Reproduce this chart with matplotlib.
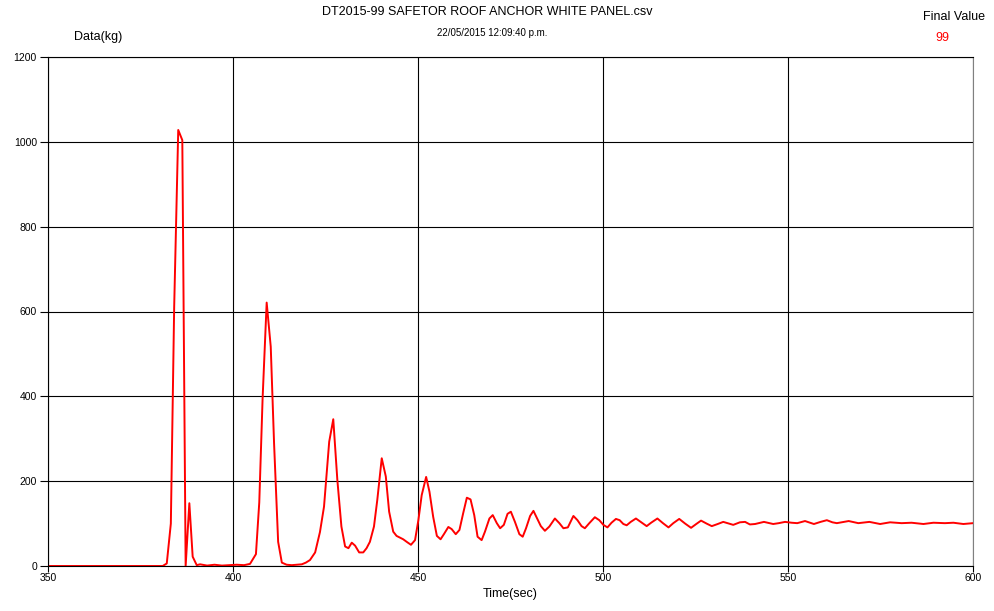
import matplotlib
matplotlib.use("Agg")
import matplotlib.pyplot as plt

plt.rcParams['font.family'] = ['Liberation Sans', 'DejaVu Sans']

times = [350, 381, 382.1, 383.2, 384.1, 385.2, 386.3, 387.2, 388.2, 389.1, 390.2, 391.1, 393, 395, 397,
         399.2, 401, 403, 404.6, 406.2, 407.1, 408.0, 409.1, 410.2, 411.1, 412.2, 413.2, 414.5, 415.9,
         417.2, 418.6, 419.7, 420.8, 422.2, 423.5, 424.6, 426.0, 427.1, 428.2, 429.3, 430.3, 431.2,
         432.1, 433.0, 434.1, 435.2, 436.1, 437.0, 438.1, 439.0, 440.2, 441.3, 442.2, 443.3, 444.2,
         445.1, 446.0, 447.1, 448.1, 449.2, 450.1, 451.0, 452.2, 453.1, 454.1, 455.1, 456.1, 457.0,
         458.2, 459.1, 460.2, 461.2, 462.2, 463.2, 464.2, 465.2, 466.1, 467.2, 468.1, 469.3, 470.2,
         471.3, 472.2, 473.2, 474.2, 475.1, 476.2, 477.4, 478.3, 479.2, 480.3, 481.2, 482.2, 483.2,
         484.3, 485.5, 487.0, 488.2, 489.3, 490.5, 492.0, 493.1, 494.2, 495.1, 496.3, 497.8, 499.0,
         500.1, 501.2, 502.3, 503.5, 504.5, 505.5, 506.4, 507.5, 508.9, 510.2, 511.8, 513.0, 514.7,
         516.2, 517.7, 519.0, 520.6, 522.2, 523.8, 525.2, 526.5, 528.0, 529.4, 531.0, 532.5, 534.0,
         535.2, 537.0, 538.4, 539.7, 541.1, 543.5, 546.0, 547.5, 549.2, 551.0, 552.5, 554.6, 557.0,
         558.8, 560.5, 562.0, 563.2, 566.4, 569.0, 572.0, 574.9, 577.6, 580.7, 583.4, 586.6, 589.3,
         592.4, 594.7, 597.4, 600]
load_kg = [0, 0, 6, 100, 610, 1028, 1004, 0, 148, 22, 2, 4, 1, 3, 1,
           2, 3, 2, 5, 28, 150, 395, 621, 517, 289, 57, 8, 3, 2,
           3, 4, 8, 14, 32, 80, 140, 293, 346, 203, 93, 46, 42,
           55, 48, 32, 32, 42, 57, 93, 156, 254, 211, 128, 81, 71,
           67, 63, 56, 50, 61, 108, 167, 210, 175, 116, 71, 63, 75,
           92, 87, 75, 85, 124, 161, 157, 120, 69, 61, 81, 112, 120,
           101, 89, 97, 123, 128, 104, 75, 69, 89, 118, 130, 112, 94,
           83, 93, 112, 101, 89, 91, 118, 108, 94, 89, 101, 115, 108,
           97, 91, 102, 111, 108, 99, 96, 104, 112, 104, 94, 102, 112,
           101, 91, 101, 111, 100, 90, 99, 107, 100, 94, 99, 104, 100,
           97, 103, 104, 98, 99, 104, 99, 101, 104, 102, 101, 106, 99,
           104, 108, 103, 101, 106, 101, 104, 99, 103, 101, 102, 99, 102,
           101, 102, 99, 101]

x_ticks = [350, 400, 450, 500, 550, 600]
y_ticks = [0, 200, 400, 600, 800, 1000, 1200]

title = "DT2015-99 SAFETOR ROOF ANCHOR WHITE PANEL.csv"
subtitle = "22/05/2015 12:09:40 p.m."
final_value = "99"

fig = plt.figure(figsize=(9.95, 6.11), dpi=100)
ax = fig.add_axes([48/995, 1-566/611, 925/995, 509/611])
ax.plot(times, load_kg, color='#ff0000', lw=1.4)
ax.set_xlim(350, 600)
ax.set_ylim(0, 1200)
ax.set_xticks(x_ticks)
ax.set_yticks(y_ticks)
ax.set_xticklabels([str(v) for v in x_ticks])
ax.set_yticklabels([str(v) for v in y_ticks])
ax.grid(True, color='black', lw=0.8)
ax.set_axisbelow(True)
for s in ax.spines.values():
    s.set_color('black')
    s.set_linewidth(0.8)
ax.spines['right'].set_color('#808080')
ax.tick_params(axis='y', labelsize=7.5, length=6, width=0.8, direction='out', colors='black', pad=2)
ax.tick_params(axis='x', labelsize=7.5, length=4, width=0.8, direction='out', colors='black', pad=1)
ax.set_xlabel("Time(sec)", fontsize=9, labelpad=4)

fig.text(487/995, 1-12/611, title, ha='center', va='center', fontsize=9)
fig.text(492/995, 1-33/611, subtitle, ha='center', va='center', fontsize=7)
fig.text(98/995, 1-37/611, "Data(kg)", ha='center', va='center', fontsize=9)
fig.text(954/995, 1-17/611, "Final Value", ha='center', va='center', fontsize=9)
fig.text(942/995, 1-38/611, final_value, ha='center', va='center', fontsize=9, color='#ff0000')

fig.savefig("out.png", dpi=100)
